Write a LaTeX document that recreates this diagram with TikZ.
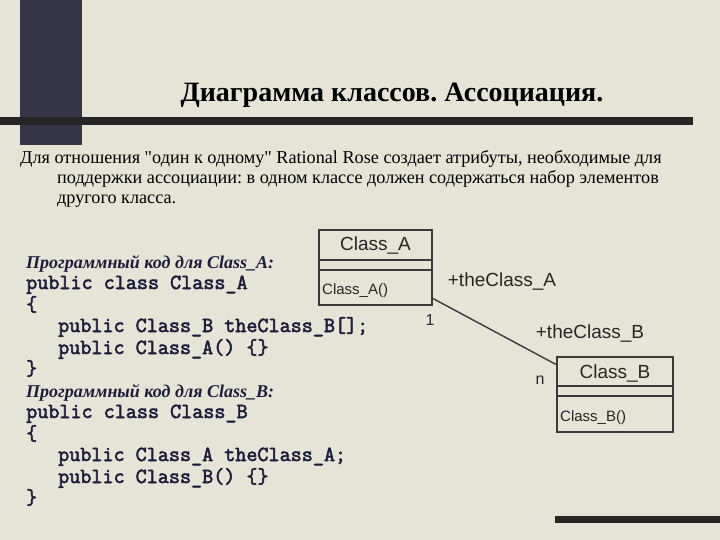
\documentclass[tikz,border=0pt]{standalone}
\usepackage{fontspec}
\setmainfont{Liberation Serif}
\setsansfont{Liberation Sans}
\newfontfamily\plainserif{Liberation Serif}
\newfontfamily\codefont[FakeBold=2.5]{Latin Modern Mono}
\definecolor{bg}{HTML}{E6E4D6}
\definecolor{navy}{HTML}{1C1C3C}
\definecolor{darkbox}{HTML}{35354A}
\definecolor{umlline}{HTML}{3A3A3A}
\frenchspacing
\begin{document}
\begin{tikzpicture}[x=1pt,y=-1pt,
  body/.style={anchor=base west,inner sep=0pt,font=\fontsize{18.2}{20}\selectfont},
  code/.style={anchor=base west,inner sep=0pt,text=navy,font=\fontsize{21.5}{21}\codefont},
  head/.style={anchor=base west,inner sep=0pt,text=navy,font=\fontsize{18}{21}\selectfont\bfseries\itshape},
  uml/.style={draw=umlline,line width=1.4pt},
  lbl/.style={inner sep=0pt,font=\fontsize{19}{22}\sffamily,text=black!85}]
\fill[bg] (0,0) rectangle (720,540);
\useasboundingbox (0,0) rectangle (720,540);
\fill[darkbox] (20,0) rectangle (82,145);
\fill[black!85] (0,117) rectangle (693,125);
\fill[black!85] (555,516) rectangle (720,523);
\node[inner sep=0pt,font=\fontsize{28}{30}\selectfont\bfseries] (title) at (392,95) {Диаграмма классов. Ассоциация.};
\node[body] (p1) at (20,164) {Для отношения {\plainserif"}один к одному{\plainserif"} Rational Rose создает атрибуты, необходимые для};
\node[body] (p2) at (57,184) {поддержки ассоциации: в одном классе должен содержаться набор элементов};
\node[body] (p3) at (57,204) {другого класса.};
\node[head] (h1) at (26,268) {Программный код для Class\_A:};
\node[code] (c1) at (26,289) {public class Class\_A};
\node[code] (c2) at (26,311) {\{};
\node[code] (c3) at (58,332) {public Class\_B theClass\_B[];};
\node[code] (c4) at (58,354) {public Class\_A() \{\}};
\node[code] (c5) at (26,375) {\}};
\node[head] (h2) at (26,397) {Программный код для Class\_B:};
\node[code] (c6) at (26,418) {public class Class\_B};
\node[code] (c7) at (26,440) {\{};
\node[code] (c8) at (58,461) {public Class\_A theClass\_A;};
\node[code] (c9) at (58,483) {public Class\_B() \{\}};
\node[code] (c10) at (26,504) {\}};
% Class A
\draw[uml] (319,230) rectangle (432,305);
\draw[uml] (319,260) -- (432,260) (319,270) -- (432,270);
\node[lbl] (an) at (375.5,246) {Class\_A};
\node[lbl,anchor=west,font=\fontsize{15}{18}\sffamily] (am) at (322,291) {Class\_A()};
\coordinate (ae) at (432,298);
% Class B
\draw[uml] (557,357) rectangle (673,432);
\draw[uml] (557,386) -- (673,386) (557,396) -- (673,396);
\node[lbl] (bn) at (615,374) {Class\_B};
\node[lbl,anchor=west,font=\fontsize{15}{18}\sffamily] (bm) at (560,418) {Class\_B()};
\coordinate (be) at (557,365);
\draw[umlline,line width=1.4pt] (ae) -- (be);
\node[lbl] (ra) at (502,282) {+theClass\_A};
\node[lbl,font=\fontsize{16}{18}\sffamily] (m1) at (430,320) {1};
\node[lbl] (rb) at (590,334) {+theClass\_B};
\node[lbl,font=\fontsize{16}{18}\sffamily] (mn) at (540,380) {n};
\end{tikzpicture}
\end{document}
